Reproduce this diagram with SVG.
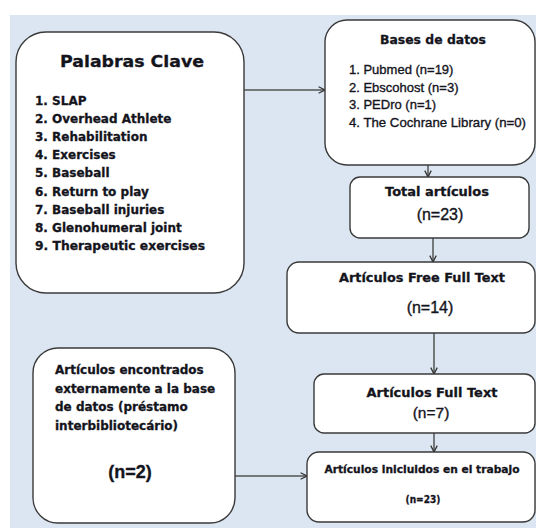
<svg xmlns="http://www.w3.org/2000/svg" width="536" height="529" viewBox="0 0 536 529">
<style>
.box{fill:#ffffff;stroke:#3a3a3a;stroke-width:1.4}
.h{font-family:"DejaVu Sans",Verdana,sans-serif;font-weight:bold;fill:#14141c;stroke:#14141c;stroke-width:0.3}
.c{font-family:"Liberation Sans",Arial,sans-serif;fill:#14141c;stroke:#14141c;stroke-width:0.35}
.ln{stroke:#555555;stroke-width:1.5;fill:none;marker-end:url(#ah)}
</style>
<defs>
<marker id="ah" viewBox="0 0 10 10" refX="9" refY="5" markerWidth="8" markerHeight="8" markerUnits="userSpaceOnUse" orient="auto">
<path d="M1,1 L9,5 L1,9" fill="none" stroke="#333333" stroke-width="1.6"/>
</marker>
</defs>
<rect x="0" y="0" width="536" height="529" fill="#ffffff"/>
<rect x="10" y="15" width="526" height="513" fill="#dce6f2"/>
<g id="connectors">
<line class="ln" x1="244" y1="90" x2="325" y2="90"/>
<line class="ln" x1="428" y1="165" x2="428" y2="177"/>
<line class="ln" x1="433" y1="238" x2="433" y2="262"/>
<line class="ln" x1="434" y1="333" x2="434" y2="374"/>
<line class="ln" x1="434" y1="433" x2="434" y2="452"/>
<line class="ln" x1="235" y1="476" x2="307" y2="476"/>
</g>
<g id="palabras">
<rect class="box" x="16" y="32" width="228" height="261" rx="30"/>
<text class="h" x="132" y="67" font-size="16.5" stroke-width="0.7" text-anchor="middle" textLength="144" lengthAdjust="spacingAndGlyphs">Palabras Clave</text>
<text class="h" font-size="12">
<tspan x="35" y="105">1. SLAP</tspan>
<tspan x="35" y="123">2. Overhead Athlete</tspan>
<tspan x="35" y="141">3. Rehabilitation</tspan>
<tspan x="35" y="159">4. Exercises</tspan>
<tspan x="35" y="177">5. Baseball</tspan>
<tspan x="35" y="196">6. Return to play</tspan>
<tspan x="35" y="214">7. Baseball injuries</tspan>
<tspan x="35" y="232">8. Glenohumeral joint</tspan>
<tspan x="35" y="250" textLength="170" lengthAdjust="spacingAndGlyphs">9. Therapeutic exercises</tspan>
</text>
</g>
<g id="bases">
<rect class="box" x="325" y="20" width="210" height="145" rx="22"/>
<text class="h" x="433" y="44" font-size="12.5" text-anchor="middle" textLength="106" lengthAdjust="spacingAndGlyphs">Bases de datos</text>
<text class="c" font-size="13">
<tspan x="349" y="74">1. Pubmed (n=19)</tspan>
<tspan x="349" y="92">2. Ebscohost (n=3)</tspan>
<tspan x="349" y="109">3. PEDro (n=1)</tspan>
<tspan x="349" y="127" textLength="177" lengthAdjust="spacingAndGlyphs">4. The Cochrane Library (n=0)</tspan>
</text>
</g>
<g id="total">
<rect class="box" x="350" y="177" width="179" height="61" rx="10"/>
<text class="h" x="437" y="196" font-size="13" text-anchor="middle" textLength="104" lengthAdjust="spacingAndGlyphs">Total artículos</text>
<text class="c" x="440" y="220" font-size="16" text-anchor="middle">(n=23)</text>
</g>
<g id="free">
<rect class="box" x="287" y="262" width="248" height="71" rx="12"/>
<text class="h" x="422" y="282" font-size="13" text-anchor="middle" textLength="166" lengthAdjust="spacingAndGlyphs">Artículos Free Full Text</text>
<text class="c" x="430" y="313" font-size="16" text-anchor="middle">(n=14)</text>
</g>
<g id="fulltext">
<rect class="box" x="314" y="374" width="221" height="59" rx="10"/>
<text class="h" x="432" y="397" font-size="13" text-anchor="middle" textLength="131" lengthAdjust="spacingAndGlyphs">Artículos Full Text</text>
<text class="c" x="431" y="418" font-size="15.5" text-anchor="middle">(n=7)</text>
</g>
<g id="incluidos">
<rect class="box" x="307" y="452" width="228" height="70" rx="12"/>
<text class="h" x="422" y="473" font-size="10.5" text-anchor="middle" textLength="195" lengthAdjust="spacingAndGlyphs">Artículos inicluidos en el trabajo</text>
<text class="h" x="423" y="503" font-size="10.5" text-anchor="middle" textLength="35" lengthAdjust="spacingAndGlyphs">(n=23)</text>
</g>
<g id="externos">
<rect class="box" x="33" y="348" width="202" height="175" rx="25"/>
<text class="h" font-size="12">
<tspan x="55" y="374">Artículos encontrados</tspan>
<tspan x="55" y="393">externamente a la base</tspan>
<tspan x="55" y="411">de datos (préstamo</tspan>
<tspan x="55" y="430">interbibliotecário)</tspan>
</text>
<text class="c" x="130" y="478" font-size="18" font-weight="bold" text-anchor="middle">(n=2)</text>
</g>
</svg>
